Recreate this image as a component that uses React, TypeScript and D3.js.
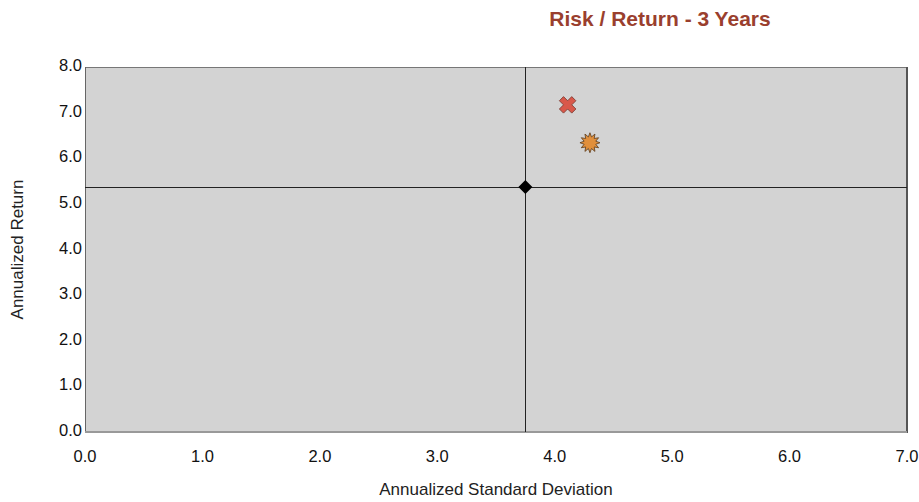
import React, { useEffect, useRef } from "react";
import * as d3 from "d3";

// risk (std dev) / return points
const names = ["Market", "Fund", "Peer"];
const stdDevs = [3.75, 4.11, 4.3];
const returns = [5.37, 7.17, 6.34];
const shapes = ["diamond", "x", "star"];
const colors = ["#000000", "#d9584a", "#e08f3c"];

const xTicks = [0, 1, 2, 3, 4, 5, 6, 7];
const yTicks = [0, 1, 2, 3, 4, 5, 6, 7, 8];

const App = () => {
  const ref = useRef<SVGSVGElement>(null);

  useEffect(() => {
    const width = 919;
    const height = 502;
    const left = 85;
    const right = 907;
    const top = 67;
    const bottom = 432;
    const font = "'Liberation Sans', Arial, sans-serif";

    const svg = d3.select(ref.current);
    svg.selectAll("*").remove();
    svg.attr("width", width).attr("height", height);

    const x = d3.scaleLinear().domain([0, 7]).range([left, right]);
    const y = d3.scaleLinear().domain([0, 8]).range([bottom, top]);

    // plot background
    svg
      .append("rect")
      .attr("x", left)
      .attr("y", top)
      .attr("width", right - left)
      .attr("height", bottom - top)
      .attr("fill", "#d3d3d3");

    // borders: dark top/left/right, light bottom
    const border = svg.append("g");
    border.append("line").attr("x1", left).attr("x2", right).attr("y1", top + 0.5).attr("y2", top + 0.5).attr("stroke", "#777");
    border.append("line").attr("x1", left + 0.5).attr("x2", left + 0.5).attr("y1", top).attr("y2", bottom).attr("stroke", "#666");
    border.append("line").attr("x1", right).attr("x2", right).attr("y1", top).attr("y2", bottom + 1).attr("stroke", "#555").attr("stroke-width", 2);
    border.append("line").attr("x1", left).attr("x2", right).attr("y1", bottom).attr("y2", bottom).attr("stroke", "#999").attr("stroke-width", 2);

    // crosshair through the benchmark point
    const cx = x(stdDevs[0]);
    const cy = y(returns[0]);
    svg.append("line").attr("x1", Math.round(cx) + 0.5).attr("x2", Math.round(cx) + 0.5).attr("y1", top).attr("y2", bottom).attr("stroke", "#222");
    svg.append("line").attr("x1", left).attr("x2", right).attr("y1", Math.round(cy) + 0.5).attr("y2", Math.round(cy) + 0.5).attr("stroke", "#222");

    // tick labels
    svg
      .selectAll("text.xt")
      .data(xTicks)
      .join("text")
      .attr("class", "xt")
      .attr("x", (d) => x(d))
      .attr("y", 462)
      .attr("text-anchor", "middle")
      .style("font-family", font)
      .style("font-size", "16.5px")
      .attr("fill", "#111")
      .text((d) => d.toFixed(1));

    svg
      .selectAll("text.yt")
      .data(yTicks)
      .join("text")
      .attr("class", "yt")
      .attr("x", 82)
      .attr("y", (d) => y(d) + 4)
      .attr("text-anchor", "end")
      .style("font-family", font)
      .style("font-size", "16.5px")
      .attr("fill", "#111")
      .text((d) => d.toFixed(1));

    // titles
    svg
      .append("text")
      .attr("x", 660)
      .attr("y", 26)
      .attr("text-anchor", "middle")
      .style("font-family", font)
      .style("font-size", "21px")
      .style("font-weight", "bold")
      .attr("fill", "#9a3f2e")
      .text("Risk / Return - 3 Years");

    svg
      .append("text")
      .attr("x", (left + right) / 2)
      .attr("y", 495)
      .attr("text-anchor", "middle")
      .style("font-family", font)
      .style("font-size", "17px")
      .attr("fill", "#222")
      .text("Annualized Standard Deviation");

    svg
      .append("text")
      .attr("transform", `translate(23,${(top + bottom) / 2}) rotate(-90)`)
      .attr("text-anchor", "middle")
      .style("font-family", font)
      .style("font-size", "17px")
      .attr("fill", "#222")
      .text("Annualized Return");

    // markers
    const starPath = () => {
      const pts: [number, number][] = [];
      const n = 12;
      for (let i = 0; i < n * 2; i++) {
        const r = i % 2 === 0 ? 10 : 6;
        pts.push([(i * Math.PI) / n, r]);
      }
      return d3.lineRadial().curve(d3.curveLinearClosed)(pts) as string;
    };

    names.forEach((_, i) => {
      const g = svg
        .append("g")
        .attr("transform", `translate(${x(stdDevs[i])},${y(returns[i])})`);
      if (shapes[i] === "diamond") {
        g.append("path")
          .attr("d", d3.symbol(d3.symbolSquare, 98)() as string)
          .attr("transform", "rotate(45)")
          .attr("fill", colors[i]);
      } else if (shapes[i] === "x") {
        g.append("path")
          .attr("d", d3.symbol(d3.symbolCross, 170)() as string)
          .attr("transform", "rotate(45)")
          .attr("fill", colors[i])
          .attr("stroke", "#7a3a30")
          .attr("stroke-width", 0.8);
      } else {
        g.append("path")
          .attr("d", starPath())
          .attr("fill", colors[i])
          .attr("stroke", "#5a3a1a")
          .attr("stroke-width", 0.8);
      }
    });
  }, []);

  return (
    <svg
      ref={ref}
      style={{ display: "block", position: "absolute", left: 0, top: 0 }}
    />
  );
};

export default App;
